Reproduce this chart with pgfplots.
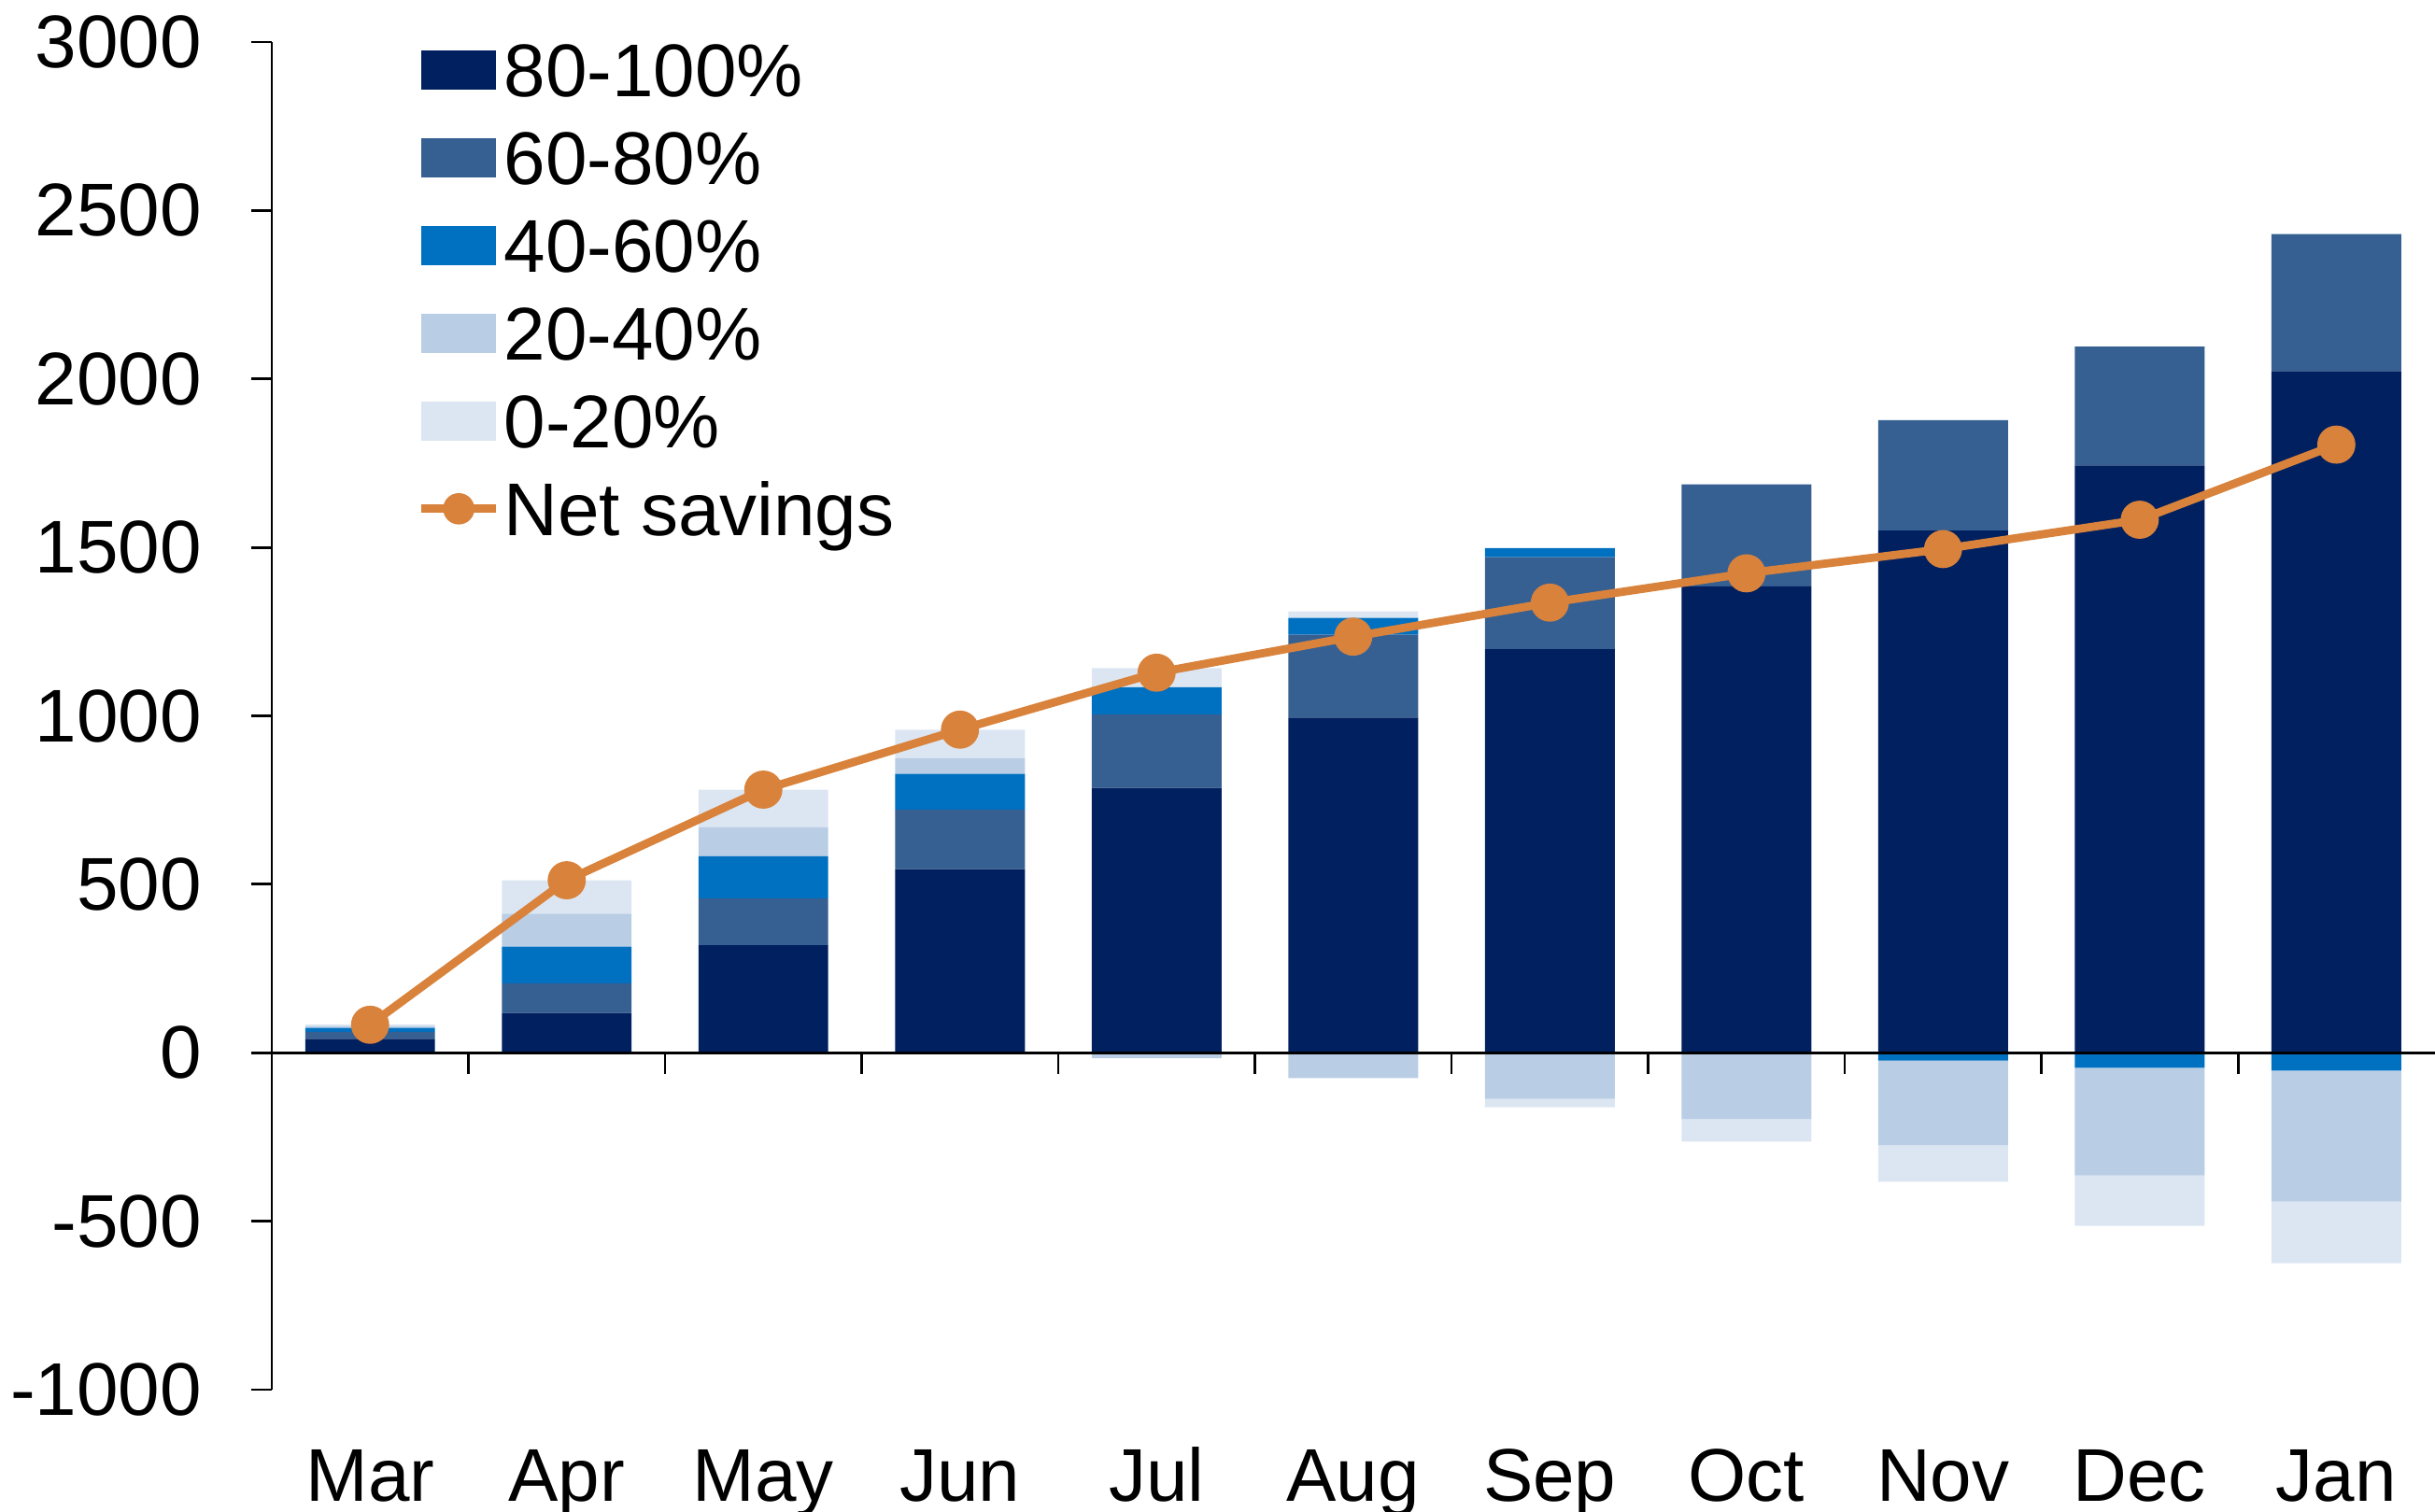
\documentclass[border=0pt]{standalone}
\usepackage{fontspec}
\setmainfont{Liberation Sans}
\usepackage{pgfplots}
\pgfplotsset{compat=1.18}
\definecolor{cA}{RGB}{0,32,96}
\definecolor{cB}{RGB}{55,96,146}
\definecolor{cC}{RGB}{0,112,192}
\definecolor{cD}{RGB}{185,205,229}
\definecolor{cE}{RGB}{220,230,242}
\definecolor{cNet}{RGB}{217,130,59}
\newcommand{\bigfont}{\fontsize{20bp}{24bp}\selectfont}
\pgfplotsset{
  base/.style={
    width=578.9bp, height=360.75bp, scale only axis,
    xmin=-0.5, xmax=10.5, ymin=-1000, ymax=3000,
    clip=false,
  },
  bareaxis/.style={base, axis lines=none, xtick=\empty, ytick=\empty},
}
\begin{document}
\begin{tikzpicture}
% positive parts of the stacks, axes and legend
\begin{axis}[base, ybar stacked, bar width=0.66,
  axis lines*=left, separate axis lines,
  x axis line style={draw=none},
  y axis line style={black, line width=0.7bp},
  xtick={0,...,10},
  xticklabels={Mar,Apr,May,Jun,Jul,Aug,Sep,Oct,Nov,Dec,Jan},
  xtick style={draw=none},
  xticklabel style={anchor=base, yshift=-24.25bp},
  ytick={-1000,-500,...,3000},
  ytick style={black, line width=0.7bp},
  tick align=outside, major tick length=5.6bp,
  yticklabel style={anchor=east, inner xsep=0pt, xshift=-13bp},
  /pgf/number format/assume math mode=true,
  /pgf/number format/1000 sep={},
  tick label style={font=\bigfont},
  legend cell align=left,
  legend style={at={(axis description cs:0,1)}, anchor=north west,
    xshift=38.75bp, yshift=4.5bp, draw=none, fill=none,
    font=\bigfont, inner sep=0pt, row sep=0pt,
    nodes={inner xsep=1bp, inner ysep=0pt, text height=19bp, text depth=4.5bp}},
  legend image code/.code={\fill[#1,draw=none] (0bp,-5.25bp) rectangle (20bp,5.25bp);},
]
\addplot[fill=cA, draw=none] coordinates {(0,41) (1,118) (2,319) (3,545) (4,786) (5,995) (6,1198) (7,1384) (8,1550) (9,1743) (10,2023)};
\addlegendentry{80-100\%}
\addplot[fill=cB, draw=none] coordinates {(0,21) (1,88) (2,139) (3,177) (4,218) (5,246) (6,273) (7,303) (8,328) (9,353) (10,407)};
\addlegendentry{60-80\%}
\addplot[fill=cC, draw=none] coordinates {(0,12) (1,109) (2,125) (3,106) (4,81) (5,50) (6,27) (7,0) (8,0) (9,0) (10,0)};
\addlegendentry{40-60\%}
\addplot[fill=cD, draw=none] coordinates {(0,5) (1,98) (2,87) (3,46) (4,0) (5,0) (6,0) (7,0) (8,0) (9,0) (10,0)};
\addlegendentry{20-40\%}
\addplot[fill=cE, draw=none] coordinates {(0,5) (1,99) (2,111) (3,85) (4,57) (5,19) (6,0) (7,0) (8,0) (9,0) (10,0)};
\addlegendentry{0-20\%}
\addlegendimage{legend image code/.code={
  \draw[cNet, line width=2.2bp] (0bp,0bp) -- (20bp,0bp);
  \fill[cNet] (10bp,0bp) circle (4bp);}}
\addlegendentry{Net savings}
\end{axis}
% negative parts of the stacks
\begin{axis}[bareaxis, ybar stacked, bar width=0.66]
\addplot[fill=cC, draw=none] coordinates {(0,0) (1,0) (2,0) (3,0) (4,0) (5,0) (6,0) (7,0) (8,-23) (9,-45) (10,-53)};
\addplot[fill=cD, draw=none] coordinates {(0,0) (1,0) (2,0) (3,0) (4,-16) (5,-75) (6,-137) (7,-197) (8,-252) (9,-319) (10,-389)};
\addplot[fill=cE, draw=none] coordinates {(0,0) (1,0) (2,0) (3,0) (4,0) (5,0) (6,-25) (7,-67) (8,-108) (9,-150) (10,-183)};
\end{axis}
% zero line and net savings
\begin{axis}[bareaxis]
\draw[black, line width=0.8bp] (axis cs:-0.5,0) -- (axis cs:10.5,0);
\pgfplotsinvokeforeach{0.5,1.5,2.5,3.5,4.5,5.5,6.5,7.5,8.5,9.5}{
  \draw[black, line width=0.7bp] (axis cs:#1,0) -- ([yshift=-5.6bp]axis cs:#1,0);
}
\addplot[cNet, line width=2.2bp, mark=*, mark size=4bp,
  mark options={fill=cNet, draw=none}] coordinates {
  (0,83) (1,512) (2,781) (3,959) (4,1128) (5,1235) (6,1336) (7,1423) (8,1495) (9,1582) (10,1805)};
\end{axis}
\pgfresetboundingbox
\path[use as bounding box] (-72.75bp,-32.75bp) rectangle (579bp,372bp);
\end{tikzpicture}
\end{document}
